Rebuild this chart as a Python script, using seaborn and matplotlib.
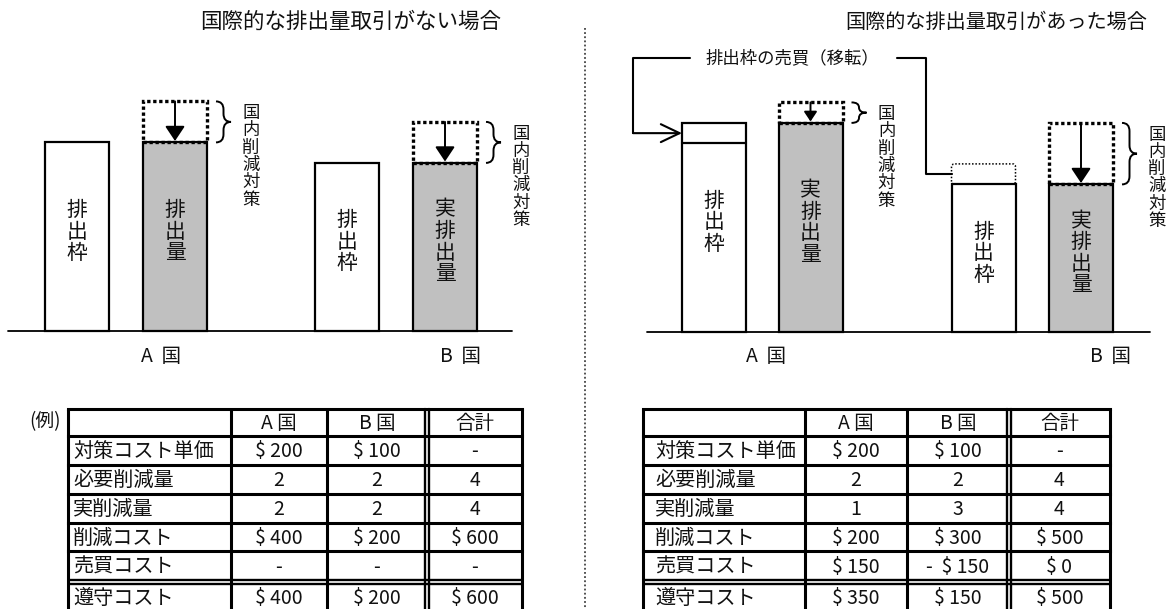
import numpy as np
import pandas as pd
import matplotlib
matplotlib.use("Agg")
import matplotlib.pyplot as plt
import seaborn as sns
from matplotlib.path import Path
from matplotlib.patches import PathPatch, FancyBboxPatch

sns.set_theme(style="white")
plt.rcParams['font.family'] = ['Noto Sans CJK JP', 'DejaVu Sans']

# ---------------- data ----------------
countries = ["A", "B"]
allowance = np.array([9.2, 8.2])          # initial emission allowances
required_cut = np.array([2, 2])           # required reductions
actual_cut_trade = np.array([1, 3])       # actual reductions with trading
traded = np.array([1, -1])                # allowances bought (+) / sold (-)
bau = allowance + required_cut            # emissions before measures

titles = ["国際的な排出量取引がない場合", "国際的な排出量取引があった場合"]
bar_labels_left = ["排出枠", "排出量", "排出枠", "実排出量"]
bar_labels_right = ["排出枠", "実排出量", "排出枠", "実排出量"]
country_labels = ["A  国", "B  国"]
trade_label = "排出枠の売買（移転）"
measure_label = "国内削減対策"

table_cols = ["", "A 国", "B 国", "合計"]
table_rows = ["対策コスト単価", "必要削減量", "実削減量", "削減コスト", "売買コスト", "遵守コスト"]
unit_cost = ["$ 200", "$ 100", "-"]
req_cut_txt = ["2", "2", "4"]
nt_actual = ["2", "2", "4"]
nt_cut_cost = ["$ 400", "$ 200", "$ 600"]
nt_trade_cost = ["-", "-", "-"]
nt_total = ["$ 400", "$ 200", "$ 600"]
t_actual = ["1", "3", "4"]
t_cut_cost = ["$ 200", "$ 300", "$ 500"]
t_trade_cost = ["$ 150", "-  $ 150", "$ 0"]
t_total = ["$ 350", "$ 150", "$ 500"]

# ---------------- layout ----------------
W, H, DPI = 1172, 609, 100
PT = 72 / DPI     # points per pixel
U = 20.5          # pixels per unit
BAR_W = 64
GRAY = "#c0c0c0"
INK = "#111111"

fig = plt.figure(figsize=(W / DPI, H / DPI), dpi=DPI)
fig.patch.set_facecolor("white")

bg = fig.add_axes([0, 0, 1, 1], zorder=0)
bg.set_xlim(0, W)
bg.set_ylim(H, 0)
bg.axis("off")


def panel_axes(x0, x1, base):
    ax = fig.add_axes([x0 / W, (H - 400) / H, (x1 - x0) / W, 400 / H], zorder=1)
    ax.patch.set_alpha(0)
    return ax, (x0, x1), (-(400 - base) / U, base / U)


def brace(ax, x, bot, top, w):
    mid = (bot + top) / 2
    d = min(0.4, (top - bot) / 4)
    xm = x + w / 2
    verts = [(x, top), (xm, top), (xm, top - d), (xm, mid + d), (xm, mid), (x + w, mid),
             (xm, mid), (xm, mid - d), (xm, bot + d), (xm, bot), (x, bot)]
    codes = [Path.MOVETO, Path.CURVE3, Path.CURVE3, Path.LINETO, Path.CURVE3, Path.CURVE3,
             Path.CURVE3, Path.CURVE3, Path.LINETO, Path.CURVE3, Path.CURVE3]
    ax.add_patch(PathPatch(Path(verts, codes), fill=False, lw=1.4, color="black", zorder=5))


def vtext(ax, x, y, s, size, step_px, top=False):
    """Vertical text: one character per line, step_px pixels apart."""
    n = len(s)
    for k, ch in enumerate(s):
        off = (k + 0.5) * step_px if top else (k - (n - 1) / 2) * step_px
        ax.annotate(ch, xy=(x, y), xytext=(0, -off * PT), textcoords="offset points",
                    ha="center", va="center", fontsize=size, color=INK, zorder=6)


def draw_panel(ax, xr, yr, pos, heights, kinds, labels, before, after, arrow_scales, base_x):
    df = pd.DataFrame({"pos": pos, "h": heights, "kind": kinds})
    w = BAR_W / np.min(np.diff(np.sort(pos)))
    sns.barplot(data=df, x="pos", y="h", hue="kind", palette={"枠": "white", "量": GRAY},
                native_scale=True, dodge=False, width=w, edgecolor="black", linewidth=1.6,
                saturation=1, legend=False, errorbar=None, ax=ax, zorder=3)
    ax.plot(base_x, [0, 0], color="black", lw=1.3, zorder=2)
    gx = [pos[1], pos[3]]
    # dotted boxes for domestic measures
    ax.bar(gx, before - after, bottom=after, width=BAR_W, fill=False, edgecolor="black",
           linestyle=(0, (1, 0.8)), linewidth=2.4, zorder=4)
    for i in range(2):
        ax.annotate("", xy=(gx[i], after[i]), xytext=(gx[i], before[i]),
                    arrowprops=dict(arrowstyle="-|>,head_length=0.45,head_width=0.3",
                                    lw=1.4, color="black", shrinkA=0, shrinkB=1,
                                    mutation_scale=arrow_scales[i]), zorder=5)
        bx = gx[i] + BAR_W / 2 + 9
        brace(ax, bx, after[i], before[i], 15)
        vtext(ax, bx + 35, before[i] - 3 / U, measure_label, 12.5, 17.3, top=True)
    for p, h, lab in zip(pos, heights, labels):
        vtext(ax, p, h / 2 + 0.25, lab, 15, 21.5)
    ax.set_xlim(*xr)
    ax.set_ylim(*yr)
    ax.axis("off")


# ---------------- left panel: no trading ----------------
axL, xrL, yrL = panel_axes(0, 586, 331)
posL = [77, 175, 347, 445]
emis_L = bau - required_cut
hL = [allowance[0], emis_L[0], allowance[1], emis_L[1]]
draw_panel(axL, xrL, yrL, posL, hL, ["枠", "量", "枠", "量"], bar_labels_left,
           bau.astype(float), emis_L.astype(float), [20, 20], [8, 512])

# ---------------- right panel: with trading ----------------
axR, xrR, yrR = panel_axes(586, 1172, 332)
posR = [714, 810.5, 983.5, 1081]
allow_R = allowance + traded
emis_R = bau - actual_cut_trade
hR = [allow_R[0], emis_R[0], allow_R[1], emis_R[1]]
# removed part of B's allowance (dotted, rounded)
axR.add_patch(FancyBboxPatch((posR[2] - BAR_W / 2, allow_R[1]), BAR_W, -traded[1],
                             boxstyle="round,pad=0,rounding_size=3", fill=False,
                             edgecolor="black", linestyle=(0, (1, 1.2)), lw=1.1, zorder=2,
                             mutation_aspect=1 / U))
draw_panel(axR, xrR, yrR, posR, hR, ["枠", "量", "枠", "量"], bar_labels_right,
           bau.astype(float), emis_R.astype(float), [13, 20], [647, 1150])
# original allowance line inside A's allowance bar
axR.plot([posR[0] - BAR_W / 2, posR[0] + BAR_W / 2], [allowance[0], allowance[0]],
         color="black", lw=1.6, zorder=4)
# trading connector lines
LABEL_Y = (332 - 58) / U
yA = allowance[0] + traded[0] / 2
yB = allowance[1] + traded[1] / 2
axR.plot([690, 633, 633], [LABEL_Y, LABEL_Y, yA], color="black", lw=1.5, zorder=4)
axR.annotate("", xy=(posR[0] - BAR_W / 2, yA), xytext=(633, yA),
             arrowprops=dict(arrowstyle="->,head_length=0.9,head_width=0.43", lw=1.5,
                             color="black", shrinkA=0, shrinkB=0, mutation_scale=15), zorder=4)
axR.plot([897, 926, 926, posR[2] - BAR_W / 2], [LABEL_Y, LABEL_Y, yB, yB],
         color="black", lw=1.5, zorder=4)
axR.text(792, LABEL_Y, trade_label, ha="center", va="center", fontsize=12.5, color=INK)

# ---------------- texts on background ----------------
bg.text(351, 22, titles[0], ha="center", va="center", fontsize=15.5, color=INK)
bg.text(996, 22, titles[1], ha="center", va="center", fontsize=14.5, color=INK)
for x, lab in zip([161, 460, 766, 1111], country_labels * 2):
    bg.text(x, 356, lab, ha="center", va="center", fontsize=14, color=INK)
bg.plot([585, 585], [28, 609], color="#444444", lw=1.3, linestyle=(0, (1, 1.3)))
bg.text(45, 422, "(例)", ha="center", va="center", fontsize=13.5, color=INK)


def draw_table(xs, ys, data, pad):
    lw = 2.2
    x0, x1 = xs[0], xs[-1]
    for i, y in enumerate(ys):
        if i == 6:
            for dy in (-2.2, 2.2):
                bg.plot([x0, x1], [y + dy, y + dy], color="black", lw=1.7, solid_capstyle="butt")
        else:
            bg.plot([x0, x1], [y, y], color="black", lw=lw, solid_capstyle="projecting")
    for j, x in enumerate(xs):
        if j == 3:
            for dx in (-2.2, 2.2):
                bg.plot([x + dx, x + dx], [ys[0], ys[-1]], color="black", lw=1.7)
        else:
            bg.plot([x, x], [ys[0], ys[-1]], color="black", lw=lw)
    for j, c in enumerate(table_cols):
        if c:
            bg.text((xs[j] + xs[j + 1]) / 2, (ys[0] + ys[1]) / 2 + 1, c, ha="center",
                    va="center", fontsize=14, color=INK)
    for i, (rl, vals) in enumerate(zip(table_rows, data)):
        yc = (ys[i + 1] + ys[i + 2]) / 2 + 1
        bg.text(xs[0] + pad, yc, rl, ha="left", va="center", fontsize=14.5, color=INK)
        for j, v in enumerate(vals):
            bg.text((xs[j + 1] + xs[j + 2]) / 2, yc, v, ha="center", va="center",
                    fontsize=14, color=INK)


ys_t = [409, 436, 465, 494, 523, 551, 582, 612]
draw_table([68, 231, 327, 427, 522], ys_t,
           [unit_cost, req_cut_txt, nt_actual, nt_cut_cost, nt_trade_cost, nt_total], 5)
draw_table([643, 805, 907, 1009, 1110], ys_t,
           [unit_cost, req_cut_txt, t_actual, t_cut_cost, t_trade_cost, t_total], 12)

fig.savefig("out.png", dpi=DPI, facecolor="white")
